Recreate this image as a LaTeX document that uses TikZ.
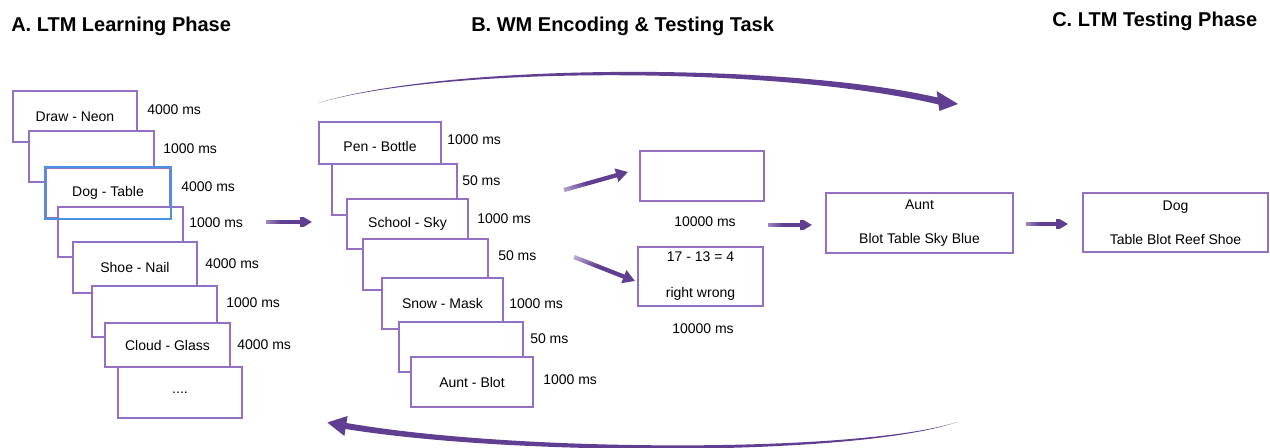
\documentclass[tikz,border=0pt]{standalone}
\usepackage{fontspec}
\setmainfont{Liberation Sans}
\usetikzlibrary{arrows.meta,fadings}

\definecolor{cardpurple}{RGB}{148,112,196}
\definecolor{arrowpurple}{RGB}{96,62,146}
\definecolor{focusblue}{RGB}{74,146,228}

% tail of the straight arrows fades out towards the left, the rest stays solid
\pgfdeclarehorizontalshading{tailshade}{100bp}{color(0bp)=(transparent!100);
  color(8bp)=(transparent!90); color(42bp)=(transparent!0); color(100bp)=(transparent!0)}
\pgfdeclarefading{tailfade}{\pgfuseshading{tailshade}}

\tikzset{
  card/.style={draw=cardpurple, fill=white, line width=1.2pt, inner sep=0pt,
    align=center, font=\fontsize{10.5}{12.6}\selectfont},
  lbl/.style={inner sep=0pt, font=\fontsize{10.5}{12.6}\selectfont},
  heading/.style={inner sep=0pt, font=\fontsize{15}{18}\selectfont\bfseries},
  flow/.style={draw=arrowpurple, line width=3.2pt,
    -{Triangle[length=9pt, width=10pt]}, path fading=tailfade},
  sweep/.style={fill=arrowpurple},
}

% a card given by its corner pixels: name, x1, y1, x2, y2, text
\newcommand\card[6]{%
  \node[card, minimum width={(#4-#2)*0.75pt}, minimum height={(#5-#3)*0.75pt}]
    (#1) at ({(#2+#4)/2},{(#3+#5)/2}) {#6};}

\begin{document}
\begin{tikzpicture}[x=0.75pt, y=-0.75pt]
\useasboundingbox (0,0) rectangle (1270,448);

% section headings
\node[heading, anchor=base west] (hA) at (11,32) {A. LTM Learning Phase};
\node[heading, anchor=base west] (hB) at (471,32) {B. WM Encoding \& Testing Task};
\node[heading, anchor=base west] (hC) at (1052,27) {C. LTM Testing Phase};

% A: learning sequence
\card{a1}{13}{91}{137}{142}{Draw - Neon}
\card{a2}{29}{131}{154}{182}{}
\card{a3}{46}{168}{170}{218}{Dog - Table}
\card{a4}{58}{207}{183}{257}{}
\card{a5}{73}{242}{197}{293}{Shoe - Nail}
\card{a6}{92}{286}{217}{337}{}
\card{a7}{105}{323}{230}{367}{Cloud - Glass}
\card{a8}{118}{367}{242}{418}{....}
\draw[focusblue, line width=1.2pt] (a3.north west) rectangle (a3.south east);

\node[lbl, anchor=west] (ta1) at (147,110) {4000 ms};
\node[lbl, anchor=west] (ta2) at (163,149) {1000 ms};
\node[lbl, anchor=west] (ta3) at (181,187) {4000 ms};
\node[lbl, anchor=west] (ta4) at (189,223) {1000 ms};
\node[lbl, anchor=west] (ta5) at (205,264) {4000 ms};
\node[lbl, anchor=west] (ta6) at (226,303) {1000 ms};
\node[lbl, anchor=west] (ta7) at (237,345) {4000 ms};

% B: encoding sequence
\card{b1}{319}{122}{441}{164}{}
\node[lbl] (tb1w) at (380,147) {Pen - Bottle};
\card{b2}{332}{164}{457}{215}{}
\card{b3}{347}{199}{468}{249}{School - Sky}
\card{b4}{363}{239}{488}{290}{}
\card{b5}{382}{278}{503}{329}{Snow - Mask}
\card{b6}{399}{322}{523}{372}{}
\card{b7}{411}{357}{533}{407}{Aunt - Blot}

\node[lbl, anchor=west] (tb1) at (447,140) {1000 ms};
\node[lbl, anchor=west] (tb2) at (462,181) {50 ms};
\node[lbl, anchor=west] (tb3) at (477,219) {1000 ms};
\node[lbl, anchor=west] (tb4) at (498,256) {50 ms};
\node[lbl, anchor=west] (tb5) at (509,304) {1000 ms};
\node[lbl, anchor=west] (tb6) at (530,339) {50 ms};
\node[lbl, anchor=west] (tb7) at (543,380) {1000 ms};

% B: delay / distractor screens
\card{d1}{640}{151}{764}{201}{}
\node[lbl] (td1) at (705,222) {10000 ms};
\card{d2}{638}{247}{763}{306}{17 - 13 = 4\\[14.4pt]right wrong}
\node[lbl] (td2) at (703,329) {10000 ms};

% B: recognition probe
\card{p1}{826}{193}{1013}{253}{Aunt\\[13pt]Blot Table Sky Blue}

% C: long-term memory probe
\card{c1}{1083}{193}{1268}{252}{Dog\\[13pt]Table Blot Reef Shoe}

% straight flow arrows
\coordinate (f1s) at (266,222); \coordinate (f1e) at (312,222);
\coordinate (f2s) at (564,190); \coordinate (f2e) at (628,172);
\coordinate (f3s) at (574,257); \coordinate (f3e) at (635,281);
\coordinate (f4s) at (768,225); \coordinate (f4e) at (812,225);
\coordinate (f5s) at (1026,224); \coordinate (f5e) at (1068,224);
\draw[flow] (f1s) -- (f1e);
\draw[flow, fading angle=16] (f2s) -- (f2e);
\draw[flow, fading angle=-22] (f3s) -- (f3e);
\draw[flow] (f4s) -- (f4e);
\draw[flow] (f5s) -- (f5e);

% tapered sweep over the top, A/B towards C
\fill[sweep] (318,103) .. controls (450,63) and (780,62) .. (937.6,97.5)
  -- (936.6,91) -- (958,104) -- (939.4,111) -- (938.4,104.5)
  .. controls (780,66.5) and (450,65) .. (318,103) -- cycle;

% tapered sweep along the bottom, back to A
\fill[sweep] (957,422) .. controls (860,453) and (520,453) .. (346.5,423)
  -- (347.6,416) -- (327.3,422.5) -- (344.4,436) -- (345.5,429)
  .. controls (520,457) and (860,456) .. (957,422) -- cycle;
\end{tikzpicture}
\end{document}
